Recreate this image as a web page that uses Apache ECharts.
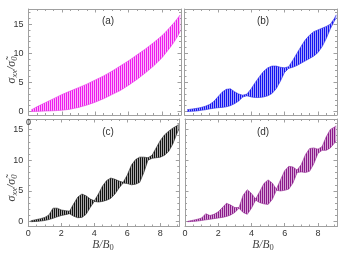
<!DOCTYPE html>
<html><head><meta charset="utf-8">
<script src="https://cdn.jsdelivr.net/npm/echarts@6/dist/echarts.min.js"></script>
<style>html,body{margin:0;padding:0;background:#fff}#c{width:354px;height:260px}</style>
</head><body><div id="c"></div>
<script>
// Field values B/B0 at which the envelopes were read
const bVals = [0.15,0.25,0.5,0.75,1,1.25,1.5,1.75,2,2.25,2.5,2.75,3,3.25,3.5,3.75,4,4.25,4.5,4.75,5,5.25,5.5,5.75,6,6.25,6.5,6.75,7,7.25,7.5,7.75,8,8.25,8.5,8.75,9,9.1];
// (a) upper / lower envelope of oscillations
const aUpper = [0.25,0.4,0.8,1.15,1.5,1.85,2.2,2.55,2.9,3.2,3.5,3.8,4.1,4.4,4.7,5.05,5.4,5.75,6.1,6.5,6.9,7.35,7.8,8.25,8.7,9.2,9.7,10.2,10.7,11.25,11.8,12.4,13.0,13.7,14.5,15.3,16.2,16.6];
const aLower = [0,0,0.02,0.05,0.08,0.1,0.13,0.17,0.22,0.3,0.4,0.55,0.7,0.9,1.1,1.35,1.6,1.9,2.2,2.55,2.9,3.25,3.6,4.05,4.5,5.0,5.5,6.05,6.6,7.2,7.8,8.5,9.2,10.1,11.0,12.0,13.2,13.8];
// (b)
const bUpper = [0.3,0.35,0.45,0.55,0.7,0.9,1.2,1.7,2.5,3.3,3.8,3.9,3.4,3.0,2.8,3.0,3.9,5.0,6.0,6.9,7.5,7.8,7.8,7.6,7.5,7.7,8.8,10.0,11.2,12.3,13.1,13.7,14.0,14.3,14.6,15.0,16.0,16.6];
const bLower = [0,0,0.05,0.1,0.2,0.3,0.45,0.55,0.65,0.7,0.8,1.0,1.35,1.8,2.5,2.7,2.5,2.4,2.4,2.5,2.7,3.1,3.9,5.2,6.7,7.4,7.6,7.9,8.3,8.7,9.1,9.5,10.1,11.1,12.5,14.2,15.6,16.0];
// (c)
const cUpper = [0.15,0.2,0.35,0.5,0.7,1.1,2.2,2.2,1.9,1.8,1.7,2.9,4.0,4.5,4.2,3.7,3.4,4.5,5.8,6.7,7.1,6.9,6.6,6.4,7.6,9.2,10.1,10.5,10.5,10.4,10.8,12.0,13.2,14.1,14.7,15.2,15.6,15.8];
const cLower = [0,0,0.05,0.1,0.2,0.35,0.55,0.8,1.0,1.15,1.3,0.9,0.65,0.7,1.2,2.3,3.3,3.2,3.3,3.5,3.8,4.5,5.5,6.3,6.2,6.0,6.1,6.4,8.0,10.0,10.3,10.4,10.5,10.8,11.4,12.6,14.3,14.9];
// (d)
const dUpper = [0.05,0.1,0.25,0.4,0.6,1.3,1.0,1.2,1.6,2.3,3.0,2.7,2.3,2.3,4.3,5.2,4.6,3.7,4.9,6.2,6.8,6.3,5.3,6.8,8.3,9.0,8.9,8.4,9.3,10.9,11.9,12.0,11.8,12.2,13.8,15.0,15.4,15.6];
const dLower = [0,0,0.05,0.1,0.2,0.3,0.4,0.5,0.6,0.7,0.85,1.1,1.5,2.2,1.5,1.2,2.2,3.5,3.1,2.9,2.8,3.6,5.1,5.0,5.1,5.3,6.3,8.0,8.1,8.0,8.2,9.4,11.1,11.6,11.6,12.0,12.8,13.2];
// tick labels
const xTicks = [0,2,4,6,8];
const yMajor = [0,5,10,15];
const yMinor = [1,2,3,4,6,7,8,9,11,12,13,14,16,17];
const panelNames = ['(a)','(b)','(c)','(d)'];

function stripes(c1, c2){
  const cv = document.createElement('canvas');
  cv.width = 2; cv.height = 1;
  const g = cv.getContext('2d');
  g.fillStyle = c2; g.fillRect(0,0,2,1);
  g.fillStyle = c1; g.fillRect(0,0,1,1);
  return cv;
}

const panels = [
  {up:aUpper, lo:aLower, c1:'#ee1cee', c2:'#f9b4f9', line:'#e63ae6', grid:{left:28.5,top:9,width:152.5,height:106}, ymin:-0.6, ymax:17.6, xl:'a'},
  {up:bUpper, lo:bLower, c1:'#1414f0', c2:'#a4a4fb', line:'#2a2ae8', grid:{left:184.5,top:9,width:152.5,height:106}, ymin:-0.6, ymax:17.6, xl:'none'},
  {up:cUpper, lo:cLower, c1:'#111111', c2:'#a8a8a8', line:'#222222', grid:{left:28.3,top:119,width:151,height:107.5}, ymin:-0.78, ymax:16.7, xl:'all'},
  {up:dUpper, lo:dLower, c1:'#8a1a8a', c2:'#d6a6d6', line:'#922a92', grid:{left:185,top:119,width:152,height:107.5}, ymin:-0.78, ymax:16.7, xl:'all'}
];

const frame = '#a0a0a0';
const lblStyle = {color:'#333', fontSize:9, fontFamily:'Liberation Sans, Arial, sans-serif'};

const grids=[], xAxes=[], yAxes=[], series=[];
panels.forEach((p,i)=>{
  grids.push(Object.assign({containLabel:false}, p.grid));
  const xb = {gridIndex:i, type:'value', min:0, max:9.15, interval:2, position:'bottom',
    axisLine:{show:true, onZero:false, lineStyle:{color:frame,width:1}},
    axisTick:{show:true, inside:true, length:3.5, lineStyle:{color:frame}},
    minorTick:{show:true, splitNumber:4, length:2, lineStyle:{color:frame}},
    splitLine:{show:false},
    axisLabel:Object.assign({margin:3, showMaxLabel:false,
      show: p.xl!=='none',
      formatter: v => (p.xl==='a' ? (v===0?'0':'') : (xTicks.indexOf(v)>=0 ? String(v) : ''))}, lblStyle)};
  const xt = {gridIndex:i, type:'value', min:0, max:9.15, interval:2, position:'top',
    axisLine:{show:true, onZero:false, lineStyle:{color:frame,width:1}},
    axisTick:{show:true, inside:true, length:3.5, lineStyle:{color:frame}},
    minorTick:{show:true, splitNumber:4, length:2, lineStyle:{color:frame}},
    splitLine:{show:false}, axisLabel:{show:false}};
  xAxes.push(xb, xt);
  const showYL = (i===0 || i===2);
  const mk = (pos, major, withLine) => ({gridIndex:i, type:'value', min:p.ymin, max:p.ymax, position:pos,
    axisLine:{show:withLine, onZero:false, lineStyle:{color:frame,width:1}},
    axisTick:{show:true, inside:true, length: major?3.5:2, customValues: major?yMajor:yMinor, lineStyle:{color:frame}},
    splitLine:{show:false},
    axisLabel: Object.assign({show: major && pos==='left' && showYL, customValues:yMajor, margin:5}, lblStyle)});
  yAxes.push(mk('left',true,true), mk('left',false,false), mk('right',true,true), mk('right',false,false));
  const pat = stripes(p.c1, p.c2);
  // striped band between the envelopes
  series.push({type:'custom', xAxisIndex:2*i, yAxisIndex:4*i, silent:true, animation:false, clip:true,
    encode:{x:0, y:[1,2]},
    data: bVals.map((b,k)=>[b, p.lo[k], p.up[k]]),
    renderItem: (params, api) => {
      if (params.dataIndex !== 0) return null;
      const pts = [];
      for (let k=0;k<bVals.length;k++) pts.push(api.coord([bVals[k], p.up[k]]));
      for (let k=bVals.length-1;k>=0;k--) pts.push(api.coord([bVals[k], p.lo[k]]));
      return {type:'polygon', shape:{points:pts}, style:{fill:{image:pat, repeat:'repeat'}, stroke:null}};
    }});
  series.push({type:'line', xAxisIndex:2*i, yAxisIndex:4*i, symbol:'none',
    data: bVals.map((b,k)=>[b, p.lo[k]]), lineStyle:{color:p.line, width:0.6}, silent:true, animation:false});
  series.push({type:'line', xAxisIndex:2*i, yAxisIndex:4*i, symbol:'none',
    data: bVals.map((b,k)=>[b, p.up[k]]), lineStyle:{color:p.line, width:0.6}, silent:true, animation:false});
});

const serif = 'Liberation Serif, DejaVu Serif, serif';
const yRich = {
  s:{fontFamily:serif, fontStyle:'italic', fontSize:12, fill:'#444'},
  n:{fontFamily:serif, fontStyle:'italic', fontSize:8.5, fill:'#444', padding:[6,0,0,0]}
};
const xRich = {
  s:{fontFamily:serif, fontStyle:'italic', fontSize:11.5, fill:'#444'},
  n:{fontFamily:serif, fontSize:8.5, fill:'#444', padding:[6,0,0,0]}
};
const graphic = [];
const labelPos = [[108,21.5],[263,21.5],[108,132],[263,132]];
panelNames.forEach((t,i)=>graphic.push({type:'text', x:labelPos[i][0], y:labelPos[i][1],
  style:{text:t, fill:'#333', font:'10px Liberation Sans, Arial, sans-serif', align:'center', verticalAlign:'middle'}}));
[[12,70],[12,188]].forEach(pp=>graphic.push({type:'text', x:pp[0], y:pp[1], rotation:Math.PI/2,
  style:{text:'{s|σ}{n|xx}{s|/σ̃}{n|0}', rich:yRich, align:'center', verticalAlign:'middle'}}));
[[103,245],[263,245]].forEach(pp=>graphic.push({type:'text', x:pp[0], y:pp[1],
  style:{text:'{s|B/B}{n|0}', rich:xRich, align:'center', verticalAlign:'middle'}}));

const chart = echarts.init(document.getElementById('c'), null, {renderer:'canvas'});
chart.setOption({animation:false, grid:grids, xAxis:xAxes, yAxis:yAxes, series:series, graphic:graphic});
</script></body></html>
